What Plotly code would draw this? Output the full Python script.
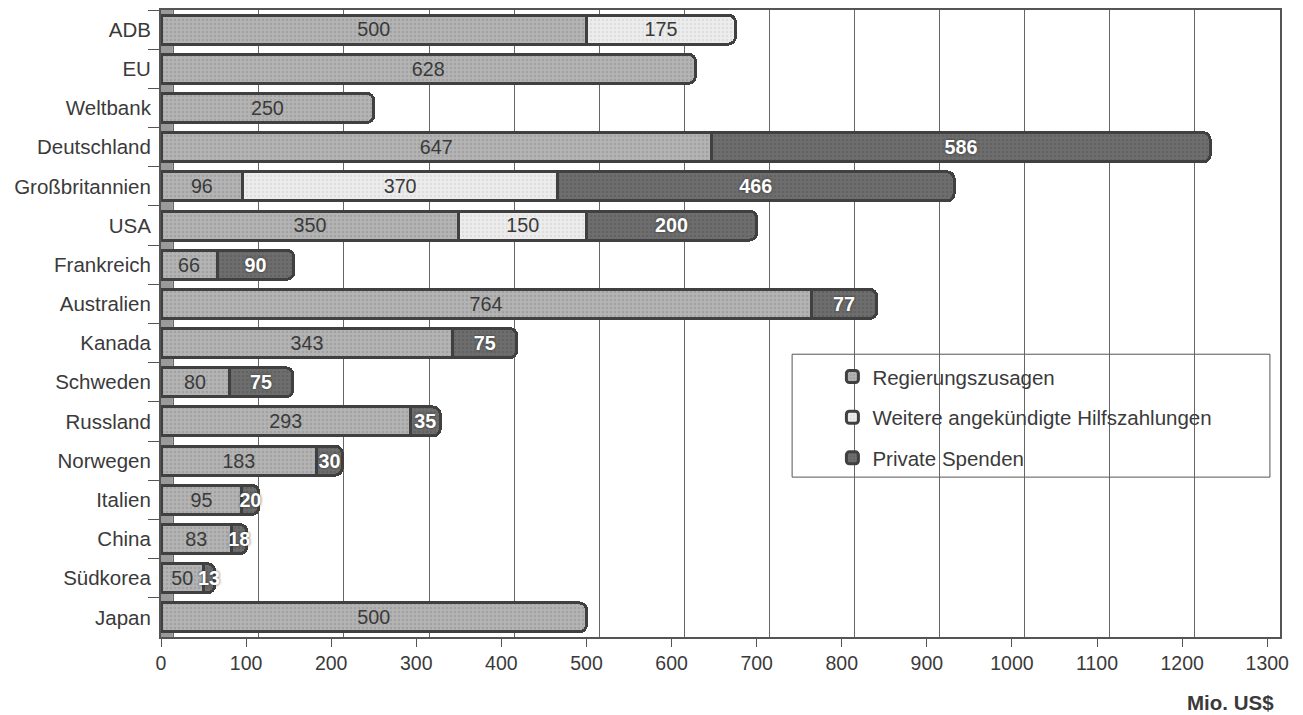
import plotly.graph_objects as go

categories = ["ADB", "EU", "Weltbank", "Deutschland", "Großbritannien", "USA", "Frankreich",
              "Australien", "Kanada", "Schweden", "Russland", "Norwegen", "Italien", "China",
              "Südkorea", "Japan"]
regierung = [500, 628, 250, 647, 96, 350, 66, 764, 343, 80, 293, 183, 95, 83, 50, 500]
weitere = [175, None, None, None, 370, 150, None, None, None, None, None, None, None, None, None, None]
privat = [None, None, None, 586, 466, 200, 90, 77, 75, 75, 35, 30, 20, 18, 13, None]
series_names = ["Regierungszusagen", "Weitere angekündigte Hilfszahlungen", "Private Spenden"]
x_ticks = list(range(0, 1301, 100))

FONT = "Liberation Sans, Arial, sans-serif"
styles = [
    dict(bg="#b4b4b4", fg="#8e8e8e", text="#3a3a3a", shadow="none"),
    dict(bg="#ededed", fg="#d0d0d0", text="#3a3a3a", shadow="none"),
    dict(bg="#6e6e6e", fg="#555555", text="#ffffff", shadow="0px 0px 3px #333333"),
]

fig = go.Figure()
for i, (name, vals) in enumerate(zip(series_names, [regierung, weitere, privat])):
    s = styles[i]
    fig.add_trace(go.Bar(
        y=categories, x=vals, orientation="h", name=name,
        legendgroup=f"g{i}",
        marker=dict(color=s["bg"], line=dict(color="#404040", width=3),
                    pattern=dict(shape=".", fgcolor=s["fg"], bgcolor=s["bg"], size=4, solidity=0.35)),
        texttemplate=("<b>%{x}</b>" if i == 2 else "%{x}"),
        textposition="inside", insidetextanchor="middle", textangle=0,
        constraintext="none", cliponaxis=False,
        textfont=dict(family=FONT, size=20, color=s["text"], shadow=s["shadow"]),
        hoverinfo="skip",
    ))

# invisible helper so the shifted grid axis is drawn
fig.add_trace(go.Scatter(x=[None], y=[None], xaxis="x2", yaxis="y", showlegend=False, hoverinfo="skip"))

fig.update_layout(
    width=1303, height=715,
    margin=dict(l=161, r=23, t=10, b=78),
    paper_bgcolor="white", plot_bgcolor="white",
    barmode="stack", bargap=0.26, barcornerradius=7,
    font=dict(family=FONT, size=19.5, color="#3a3a3a"),
    uniformtext=dict(minsize=18, mode="show"),
    xaxis=dict(range=[0, 1315], tickvals=x_ticks, showgrid=False, zeroline=False,
               ticks="outside", ticklen=8, tickcolor="#555", showline=True, linecolor="#555", linewidth=2,
               mirror=False, tickfont=dict(size=19.5, color="#3a3a3a")),
    xaxis2=dict(overlaying="x", range=[-15, 1300], tickvals=x_ticks, showgrid=True,
                gridcolor="#666", gridwidth=1, showticklabels=False, ticks="", zeroline=False,
                showline=True, linecolor="#555", linewidth=2, side="top", mirror=True),
    yaxis=dict(autorange="reversed", tickson="boundaries", ticks="outside", ticklen=11,
               tickcolor="#555", showline=True, linecolor="#555", linewidth=2, mirror=True,
               showgrid=False, tickfont=dict(size=20.5, color="#3a3a3a"), ticklabelstandoff=4),
    legend=dict(x=0.600, y=0.447, xanchor="left", yanchor="top", bgcolor="rgba(0,0,0,0)",
                borderwidth=0, traceorder="grouped", tracegroupgap=11,
                font=dict(size=20.5, color="#3a3a3a"), itemwidth=30),
    shapes=[
        dict(type="rect", xref="paper", yref="paper", x0=0.564, x1=0.991, y0=0.255, y1=0.451,
             fillcolor="white", line=dict(color="#555", width=1), layer="between"),
        dict(type="rect", xref="x", yref="paper", x0=0, x1=14, y0=0, y1=1,
             fillcolor="#9a9a9a", line=dict(width=0), layer="between"),
    ],
    annotations=[dict(text="<b>Mio. US$</b>", xref="paper", yref="paper", x=0.9965, y=-0.105,
                      xanchor="right", yanchor="middle", showarrow=False,
                      font=dict(size=20.5, color="#3a3a3a"))],
)

fig.write_html("out.html")
